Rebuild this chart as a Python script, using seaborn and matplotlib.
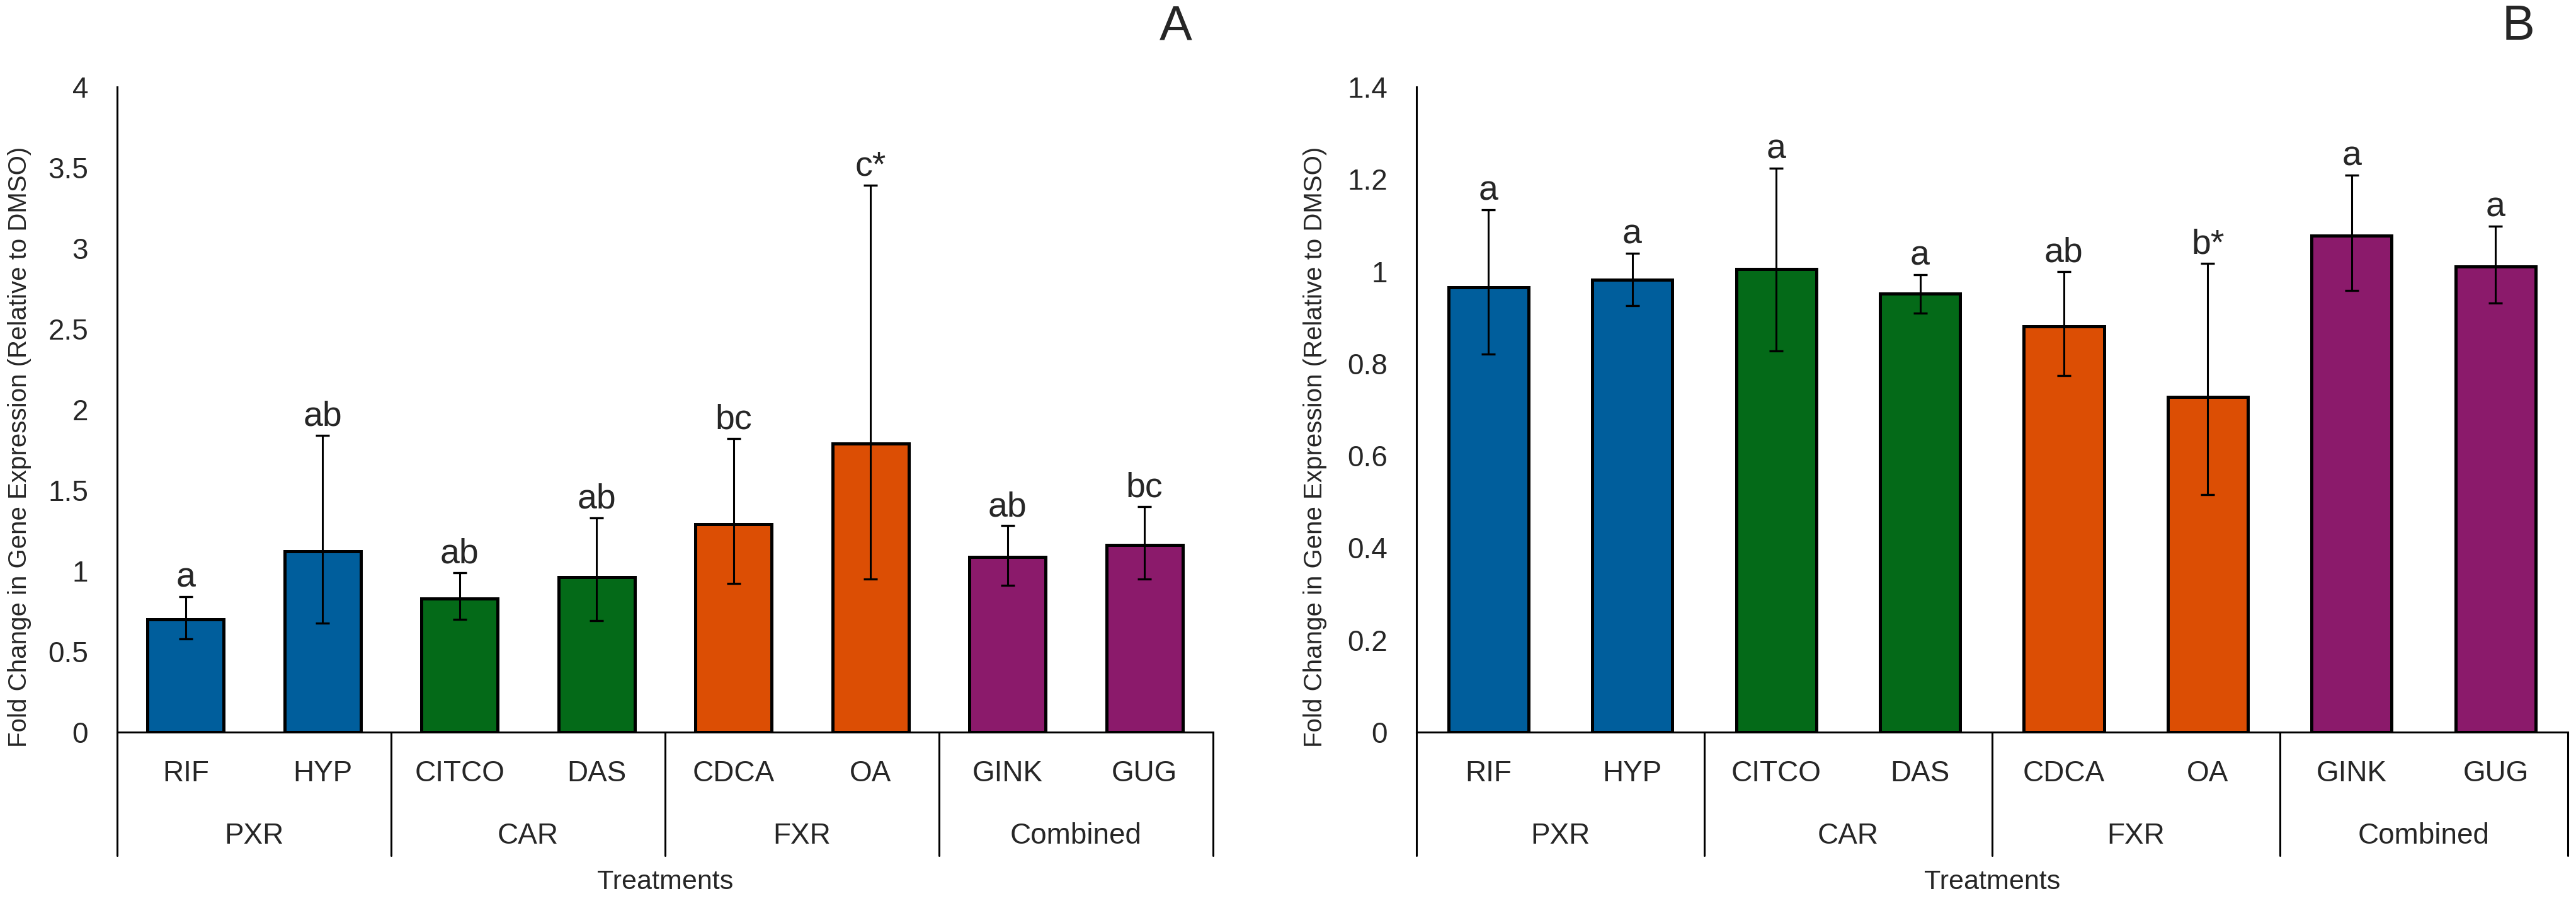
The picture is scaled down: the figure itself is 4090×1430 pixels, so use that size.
import numpy as np
import pandas as pd
import matplotlib
matplotlib.use("Agg")
import matplotlib.pyplot as plt
import matplotlib.transforms as mtransforms
from matplotlib.ticker import FuncFormatter
import seaborn as sns

# values
treatments = ["RIF", "HYP", "CITCO", "DAS", "CDCA", "OA", "GINK", "GUG"]
receptors = ["PXR", "PXR", "CAR", "CAR", "FXR", "FXR", "Combined", "Combined"]
groups = ["PXR", "CAR", "FXR", "Combined"]
colors = {"PXR": "#005E9C", "CAR": "#046A18", "FXR": "#DC4E04", "Combined": "#8B1A6B"}

a_mean = [0.70, 1.12, 0.83, 0.96, 1.29, 1.79, 1.086, 1.16]
a_upper = [0.84, 1.84, 0.99, 1.33, 1.82, 3.39, 1.28, 1.40]
a_lower = [0.58, 0.675, 0.70, 0.69, 0.92, 0.95, 0.91, 0.95]
a_letters = ["a", "ab", "ab", "ab", "bc", "c*", "ab", "bc"]
a_ticks = [0, 0.5, 1, 1.5, 2, 2.5, 3, 3.5, 4]

b_mean = [0.965, 0.981, 1.005, 0.951, 0.881, 0.7275, 1.0775, 1.01]
b_upper = [1.134, 1.039, 1.224, 0.9925, 1.0, 1.0175, 1.209, 1.0975]
b_lower = [0.82, 0.925, 0.8275, 0.909, 0.774, 0.516, 0.959, 0.931]
b_letters = ["a", "a", "a", "a", "ab", "b*", "a", "a"]
b_ticks = [0, 0.2, 0.4, 0.6, 0.8, 1.0, 1.2, 1.4]

ylabel = "Fold Change in Gene Expression (Relative to DMSO)"

sns.set_style("white")
plt.rcParams["font.family"] = ["Liberation Sans", "DejaVu Sans"]
narrow = ["Liberation Sans Narrow", "Liberation Sans", "DejaVu Sans"]

fig = plt.figure(figsize=(40.91, 14.30), dpi=100)


def panel(rect, mean, upper, lower, letters, ticks, tag, tag_xy, ylab_x):
    ax = fig.add_axes(rect)
    df = pd.DataFrame({"treatment": treatments, "receptor": receptors, "mean": mean})
    sns.barplot(data=df, x="treatment", y="mean", hue="receptor", order=treatments,
                hue_order=groups, palette=colors, dodge=False, width=0.556,
                saturation=1, edgecolor="black", linewidth=3.6, errorbar=None,
                legend=False, ax=ax)
    m = np.array(mean)
    yerr = [m - np.array(lower), np.array(upper) - m]
    ax.errorbar(np.arange(len(treatments)), m, yerr=yerr, fmt="none", ecolor="black",
                elinewidth=2.2, capsize=8, capthick=2.4, zorder=5)
    for i, (u, lab) in enumerate(zip(upper, letters)):
        ax.annotate(lab, xy=(i, u), xytext=(0, 11), textcoords="offset points",
                    ha="center", va="baseline", fontsize=40)

    ax.set_xlim(-0.5, len(treatments) - 0.5)
    ax.set_ylim(0, ticks[-1])
    ax.set_yticks(ticks)
    ax.yaxis.set_major_formatter(FuncFormatter(lambda v, p: f"{v:g}"))
    ax.tick_params(axis="y", length=0, pad=33, labelsize=33)
    ax.set_xticks([])
    ax.set_xlabel("")
    ax.set_ylabel(ylabel, fontsize=29)
    ax.yaxis.set_label_coords(ylab_x, 0.442)
    for s in ["top", "right"]:
        ax.spines[s].set_visible(False)
    for s in ["left", "bottom"]:
        ax.spines[s].set_linewidth(2.2)
        ax.spines[s].set_color("black")

    # two-level category axis below the bars
    tr = mtransforms.blended_transform_factory(ax.transData, ax.transAxes)
    box_bottom = -0.1914
    ax.plot([0, 0], [0, box_bottom], transform=ax.transAxes, color="black",
            lw=2.2, clip_on=False)
    for xd in [1.5, 3.5, 5.5, 7.5]:
        ax.plot([xd, xd], [0, box_bottom], transform=tr, color="black",
                lw=2.2, clip_on=False)
    for i, t in enumerate(treatments):
        ax.text(i, -0.0645, t, transform=tr, ha="center", va="center",
                fontsize=33, family=narrow)
    for g_i, g in enumerate(groups):
        ax.text(2 * g_i + 0.5, -0.161, g, transform=tr, ha="center", va="center",
                fontsize=33, family=narrow)
    ax.text(0.5, -0.2324, "Treatments", transform=ax.transAxes, ha="center",
            va="center", fontsize=31, family=narrow)
    fig.text(tag_xy[0], tag_xy[1], tag, ha="center", va="center", fontsize=56)
    return ax


panel([0.04547, 0.18741, 0.4253, 0.7161], a_mean, a_upper, a_lower, a_letters,
      a_ticks, "A", (0.4564, 0.970), -0.078)
panel([0.5497, 0.18741, 0.4468, 0.7161], b_mean, b_upper, b_lower, b_letters,
      b_ticks, "B", (0.9773, 0.970), -0.0777)

fig.savefig("out.png", dpi=100, facecolor="white")
